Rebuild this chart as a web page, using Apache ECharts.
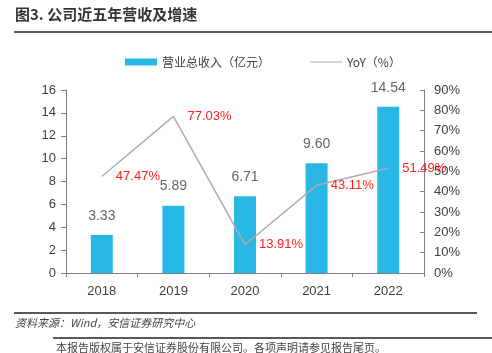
<!DOCTYPE html>
<html><head><meta charset="utf-8">
<script src="https://cdn.jsdelivr.net/npm/echarts@6/dist/echarts.min.js"></script>
<style>html,body{margin:0;padding:0;background:#fff}#c{width:492px;height:353px}</style>
</head><body><div id="c"></div>
<script>
var categories = ['2018','2019','2020','2021','2022'];
var revenue = [3.33, 5.89, 6.71, 9.60, 14.54];
var yoy = [47.47, 77.03, 13.91, 43.11, 51.49];
var leftTicks = [0,2,4,6,8,10,12,14,16];
var rightTicks = [0,10,20,30,40,50,60,70,80,90];
var titleText = '图3. 公司近五年营收及增速';
var sourceText = '资料来源：Wind，安信证券研究中心';
var footerText = '本报告版权属于安信证券股份有限公司。各项声明请参见报告尾页。';

var chart = echarts.init(document.getElementById('c'));
var font = '"Noto Sans CJK SC", "Liberation Sans", sans-serif';
var numFont = '"Liberation Sans", Arial, sans-serif';
chart.setOption({
  animation: false,
  textStyle: {fontFamily: font},
  graphic: [
    {type:'text', left:15, top:7, style:{text:titleText, fontSize:15, fontWeight:'bold', fill:'#333', fontFamily:font}},
    {type:'line', shape:{x1:14,y1:32,x2:492,y2:32}, style:{stroke:'#222', lineWidth:1.5}},
    {type:'line', shape:{x1:14,y1:313,x2:477,y2:313}, style:{stroke:'#222', lineWidth:1.5}},
    {type:'text', left:15, top:317, style:{text:sourceText, fontSize:11, fontStyle:'italic', fill:'#444', fontFamily:font}},
    {type:'line', shape:{x1:53,y1:338,x2:492,y2:338}, style:{stroke:'#222', lineWidth:1.5}},
    {type:'text', left:56, top:342, style:{text:footerText, fontSize:11, fill:'#444', fontFamily:font}}
  ],
  legend: {
    top: 51, left: 120, itemGap: 40, itemWidth: 32, itemHeight: 7,
    textStyle: {fontSize: 12, color: '#404040', fontFamily: font},
    data: [{name:'营业总收入（亿元）', icon:'rect'}, {name:'YoY（%）', icon:'path://M0,0 L32,0 L32,1 L0,1 Z'}]
  },
  grid: {left: 66, right: 68, top: 90, bottom: 80},
  xAxis: {
    type: 'category', data: categories,
    axisLine: {lineStyle: {color: '#808080'}},
    axisTick: {show: true, alignWithLabel: false, length: 4, lineStyle:{color:'#808080'}},
    axisLabel: {fontSize: 13, color: '#404040', margin: 12, fontFamily: numFont}
  },
  yAxis: [
    {type:'value', min:0, max:16, interval:2, splitLine:{show:false},
     axisLine:{show:true, lineStyle:{color:'#808080'}},
     axisTick:{show:true, length:5, lineStyle:{color:'#808080'}},
     axisLabel:{fontSize:13, color:'#404040', margin:10, fontFamily:numFont}},
    {type:'value', min:0, max:90, interval:10, splitLine:{show:false},
     axisLine:{show:true, lineStyle:{color:'#808080'}},
     axisTick:{show:true, inside:true, length:4, lineStyle:{color:'#808080'}},
     axisLabel:{fontSize:13, color:'#404040', margin:10, formatter:'{value}%', fontFamily:numFont}}
  ],
  series: [
    {name:'营业总收入（亿元）', type:'bar', data: revenue, barWidth: 22, itemStyle:{color:'#29B7E6'},
     label:{show:true, position:'top', distance:12, fontSize:14, color:'#666', formatter: function(p){return p.value.toFixed(2);}, fontFamily:numFont}},
    {name:'YoY（%）', type:'line', yAxisIndex:1, data: yoy, symbol:'circle', symbolSize:0.1, showSymbol:true,
     lineStyle:{color:'#B3ABAB', width:1.5}, itemStyle:{color:'#B3ABAB'},
     label:{show:true, position:'right', distance:14, fontSize:13, color:'#FF2020', formatter: function(p){return p.value.toFixed(2)+'%';}, fontFamily:numFont}}
  ]
});
</script></body></html>
